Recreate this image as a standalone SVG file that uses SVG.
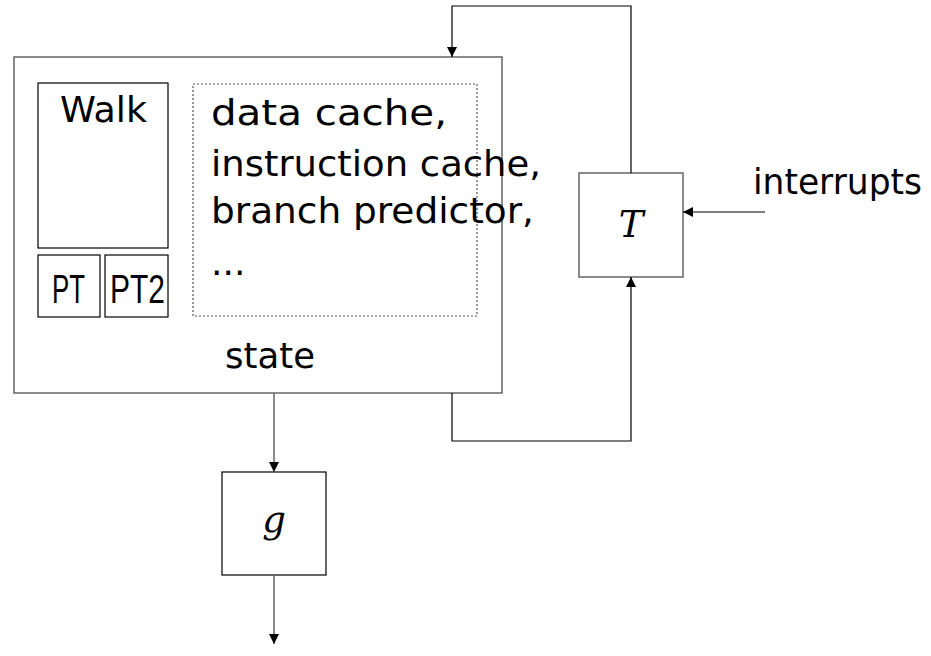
<svg xmlns="http://www.w3.org/2000/svg" width="931" height="656" viewBox="0 0 931 656">
  <style>
    .box { fill: #ffffff; stroke: #000000; stroke-width: 1.2; }
    .grey { stroke: #666666; stroke-width: 1.5; }
    .dotted { fill: none; stroke: #555555; stroke-width: 1.2; stroke-dasharray: 2 2; }
    .label { font-family: "DejaVu Sans", "Liberation Sans", sans-serif; font-size: 36px; fill: #000000; }
    .narrow { font-family: "Liberation Sans", Arial, sans-serif; font-size: 41px; fill: #000000; }
    .math { font-family: "DejaVu Serif", "Liberation Serif", serif; font-style: italic; font-size: 37px; fill: #000000; }
    .wire { fill: none; stroke: #000000; stroke-width: 1.2; }
    .wire-grey { fill: none; stroke: #666666; stroke-width: 1.5; }
  </style>
  <defs>
    <marker id="arrow" viewBox="0 0 10 10" refX="10" refY="5" markerWidth="10" markerHeight="10" markerUnits="userSpaceOnUse" orient="auto">
      <path d="M0,0 L10,5 L0,10 Z" fill="#000000"/>
    </marker>
  </defs>

  <rect width="931" height="656" fill="#ffffff"/>

  <!-- state block with its inner parts -->
  <g id="state">
    <rect class="box grey" x="14" y="57" width="488" height="336"/>
    <text class="label" x="225" y="368" textLength="90" lengthAdjust="spacingAndGlyphs">state</text>
  </g>
  <g id="walk">
    <rect class="box" x="38" y="83" width="130" height="165"/>
    <text class="label" x="60" y="122" textLength="87" lengthAdjust="spacingAndGlyphs">Walk</text>
  </g>
  <g id="pt">
    <rect class="box" x="38" y="255" width="62" height="62"/>
    <text class="narrow" x="52" y="303" textLength="33" lengthAdjust="spacingAndGlyphs">PT</text>
  </g>
  <g id="pt2">
    <rect class="box" x="105" y="255" width="63" height="62"/>
    <text class="narrow" x="110" y="303" textLength="55" lengthAdjust="spacingAndGlyphs">PT2</text>
  </g>
  <g id="caches">
    <rect class="dotted" x="193" y="84" width="284" height="232"/>
    <text class="label" x="211" y="125" textLength="236" lengthAdjust="spacingAndGlyphs">data cache,</text>
    <text class="label" x="211" y="176" textLength="330" lengthAdjust="spacingAndGlyphs">instruction cache,</text>
    <text class="label" x="211" y="223" textLength="323" lengthAdjust="spacingAndGlyphs">branch predictor,</text>
    <text class="label" x="211" y="275">...</text>
  </g>

  <!-- transition function -->
  <g id="T">
    <rect class="box grey" x="579" y="173" width="104" height="104"/>
    <text class="math" x="631" y="237" text-anchor="middle">T</text>
  </g>

  <!-- output function -->
  <g id="g">
    <rect class="box" x="222" y="472" width="104" height="103"/>
    <text class="math" x="274" y="532" text-anchor="middle">g</text>
  </g>

  <g id="interrupts">
    <text class="label" x="753" y="194" textLength="169" lengthAdjust="spacingAndGlyphs">interrupts</text>
  </g>

  <!-- connectors -->
  <g id="connectors">
    <polyline class="wire" points="631,173 631,6 452,6 452,57" marker-end="url(#arrow)"/>
    <polyline class="wire" points="452,393 452,441 631,441 631,277" marker-end="url(#arrow)"/>
    <line class="wire" x1="765" y1="212" x2="683" y2="212" marker-end="url(#arrow)"/>
    <line class="wire-grey" x1="274" y1="393" x2="274" y2="472" marker-end="url(#arrow)"/>
    <line class="wire-grey" x1="274" y1="575" x2="274" y2="644" marker-end="url(#arrow)"/>
  </g>
</svg>
